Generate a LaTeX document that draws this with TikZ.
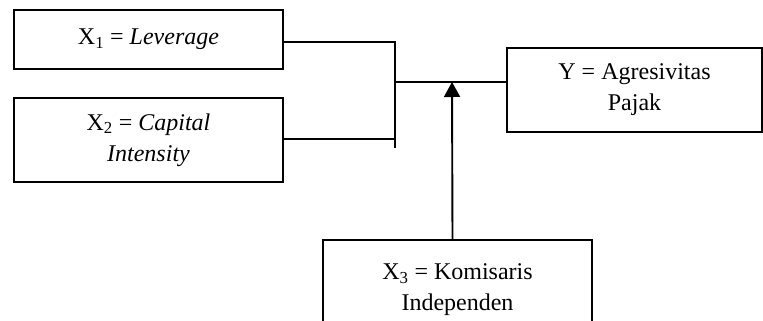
\documentclass[tikz,border=0pt]{standalone}
\usepackage{fontspec}
\setmainfont{Liberation Serif}
\usetikzlibrary{arrows.meta}
\begin{document}
\begin{tikzpicture}[x=1pt,y=-1pt,
  box/.style={draw,line width=1.9pt,rectangle,align=center,inner sep=0pt,
    font=\fontsize{24}{31}\selectfont},
  conn/.style={line width=1.9pt},
  arr/.style={line width=1.9pt,-{Triangle[width=16pt,length=15pt]}}]
\useasboundingbox (0,0) rectangle (763,321);
\node[box,minimum width=269pt,minimum height=59pt] (x1) at (148.5,39.5) {X\textsubscript{1} = \textit{Leverage}};
\node[box,minimum width=269pt,minimum height=84pt] (x2) at (148.5,140) {X\textsubscript{2} = \textit{Capital}\\\textit{Intensity}};
\node[box,minimum width=255pt,minimum height=84pt] (y) at (634.5,90) {Y = Agresivitas\\Pajak};
\node[box,minimum width=269pt,minimum height=100pt] (x3) at (457.5,290) {X\textsubscript{3} = Komisaris\\Independen};
\coordinate (j1) at (395,42);
\coordinate (j2) at (395,148);
\coordinate (jm) at (395,82);
\coordinate (b2) at (283,139);
\coordinate (a0) at ([xshift=-5pt]x3.north);
\coordinate (at) at (452,82);
\draw[conn] (x1.east |- j1) -- (j1) -- (j2);
\draw[conn] (b2) -- (b2 -| j1);
\draw[conn] (jm) -- (y.west |- jm);
\draw[arr] (a0) -- (at);
\end{tikzpicture}
\end{document}
